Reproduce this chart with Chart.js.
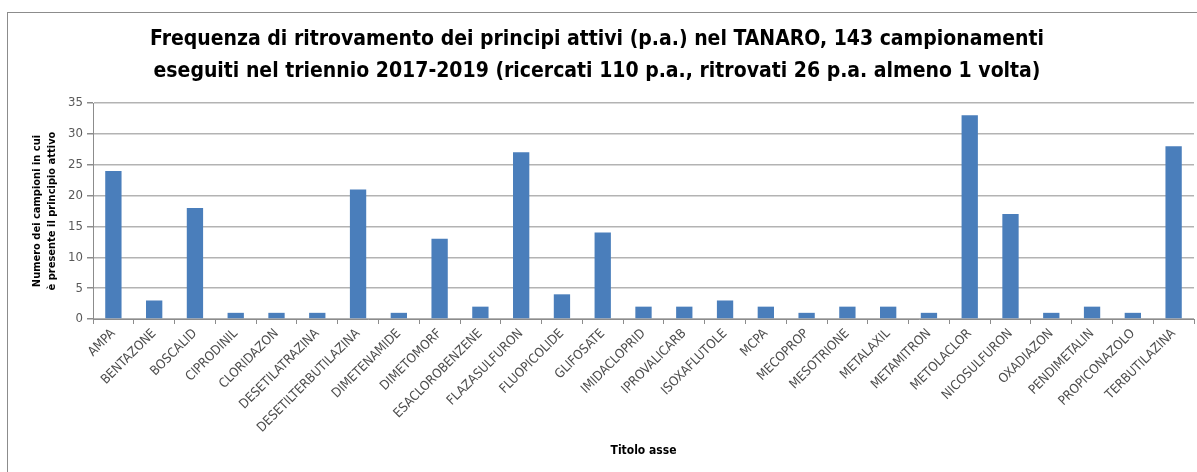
<!DOCTYPE html>
<html lang="it">
<head>
<meta charset="UTF-8">
<title>Frequenza di ritrovamento dei principi attivi - TANARO</title>
<style>
    html, body {
        margin: 0;
        padding: 0;
        background: #ffffff;
        overflow: hidden;
    }
    .frame {
        position: absolute;
        left: 7px;
        top: 12px;
        width: 1200px;
        height: 470px;
        border: 1px solid #8c8c8c;
    }
    .wrap {
        position: absolute;
        left: 0;
        top: 0;
        width: 1197px;
        height: 472px;
    }
</style>
</head>
<body>
<div class="frame"></div>
<div class="wrap"><canvas id="chart" width="1197" height="472"></canvas></div>

<script src="https://cdn.jsdelivr.net/npm/chart.js"></script>
<script>
    // principi attivi ritrovati almeno una volta
    const principiAttivi = [
        'AMPA', 'BENTAZONE', 'BOSCALID', 'CIPRODINIL', 'CLORIDAZON',
        'DESETILATRAZINA', 'DESETILTERBUTILAZINA', 'DIMETENAMIDE', 'DIMETOMORF',
        'ESACLOROBENZENE', 'FLAZASULFURON', 'FLUOPICOLIDE', 'GLIFOSATE',
        'IMIDACLOPRID', 'IPROVALICARB', 'ISOXAFLUTOLE', 'MCPA', 'MECOPROP',
        'MESOTRIONE', 'METALAXIL', 'METAMITRON', 'METOLACLOR', 'NICOSULFURON',
        'OXADIAZON', 'PENDIMETALIN', 'PROPICONAZOLO', 'TERBUTILAZINA'
    ];

    // numero di campioni in cui il p.a. e' presente
    const campioniPositivi = [
        24, 3, 18, 1, 1,
        1, 21, 1, 13,
        2, 27, 4, 14,
        2, 2, 3, 2, 1,
        2, 2, 1, 33, 17,
        1, 2, 1, 28
    ];

    const titoloGrafico = [
        'Frequenza di ritrovamento dei principi attivi (p.a.) nel TANARO, 143 campionamenti',
        'eseguiti nel triennio 2017-2019 (ricercati 110 p.a., ritrovati 26 p.a. almeno 1 volta)'
    ];
    const titoloAsseY = ['Numero dei campioni in cui', 'è presente il principio attivo'];
    const titoloAsseX = 'Titolo asse';

    const fontFamily = "'Liberation Sans Narrow', 'DejaVu Sans Condensed', 'Liberation Sans', sans-serif";

    new Chart(document.getElementById('chart').getContext('2d'), {
        type: 'bar',
        data: {
            labels: principiAttivi,
            datasets: [{
                data: campioniPositivi,
                backgroundColor: 'rgb(74, 126, 187)',
                borderWidth: 0,
                barPercentage: 0.4,
                categoryPercentage: 1.0
            }]
        },
        options: {
            responsive: false,
            animation: false,
            layout: {
                padding: { left: 0, right: 3, top: 0, bottom: 12 }
            },
            plugins: {
                legend: { display: false },
                tooltip: { enabled: false },
                title: {
                    display: true,
                    text: titoloGrafico,
                    color: '#000000',
                    font: { family: fontFamily, size: 21, weight: 'bold', lineHeight: 1.5 },
                    padding: { top: 24, bottom: 16 }
                }
            },
            scales: {
                x: {
                    grid: {
                        display: true,
                        drawOnChartArea: false,
                        drawTicks: true,
                        tickLength: 5,
                        color: '#8c8c8c'
                    },
                    border: { color: '#8c8c8c', width: 1 },
                    ticks: {
                        minRotation: 45,
                        maxRotation: 45,
                        autoSkip: false,
                        padding: 2,
                        color: '#4d4d4d',
                        font: { family: fontFamily, size: 13 }
                    },
                    title: {
                        display: true,
                        text: titoloAsseX,
                        color: '#000000',
                        font: { family: fontFamily, size: 12, weight: 'bold' },
                        padding: { top: 0, bottom: 2 }
                    },
                    afterFit: function (scale) {
                        scale.height = 141;
                    }
                },
                y: {
                    min: 0,
                    max: 35,
                    ticks: {
                        stepSize: 5,
                        padding: 4,
                        color: '#595959',
                        font: { family: fontFamily, size: 13 }
                    },
                    grid: {
                        color: '#b3b3b3',
                        lineWidth: 1.5,
                        tickLength: 6,
                        tickColor: '#8c8c8c'
                    },
                    border: { color: '#8c8c8c', width: 1 },
                    title: {
                        display: true,
                        text: titoloAsseY,
                        color: '#000000',
                        font: { family: fontFamily, size: 11, weight: 'bold', lineHeight: 1.4 },
                        padding: { top: 29, bottom: 0 }
                    },
                    afterFit: function (scale) {
                        scale.width = 93;
                    }
                }
            }
        }
    });
</script>
</body>
</html>
